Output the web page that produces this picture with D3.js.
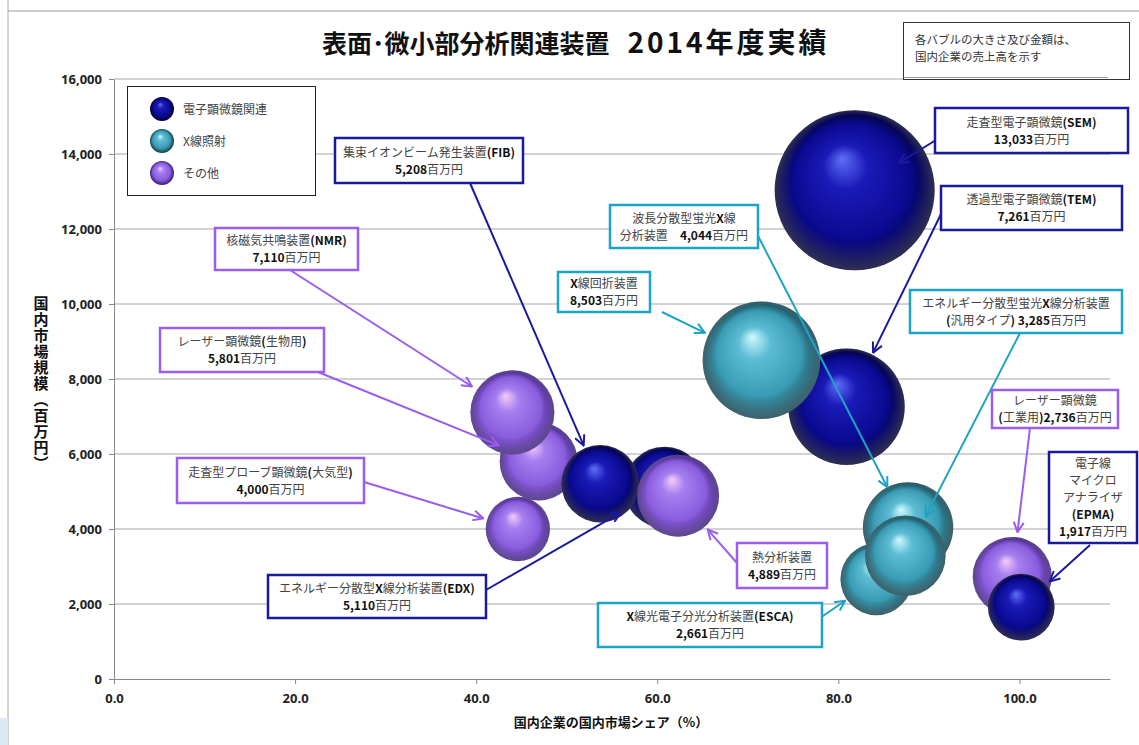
<!DOCTYPE html>
<html>
<head>
<meta charset="utf-8">
<script src="https://cdn.jsdelivr.net/npm/d3@7"></script>
<style>
  body { margin: 0; background: #fff; }
  text { font-family: "Noto Sans CJK JP", "Noto Sans", sans-serif; }
</style>
</head>
<body>
<div id="chart"></div>
<script>
var width = 1139,
    height = 745;

// draw order follows the picture (later = in front)
var names = ["SEM", "TEM", "XRD", "ESCA", "WDXRF", "EDXRF", "LaserInd", "EPMA",
             "LaserBio", "NMR", "Probe", "EDX", "FIB", "Thermal"];
var groups = [0, 0, 1, 1, 1, 1, 2, 0, 2, 2, 2, 0, 0, 2];
var share  = [81.8, 80.9, 71.5, 84.2, 87.7, 87.4, 99.2, 100.2, 46.9, 44.0, 44.6, 60.8, 53.7, 62.3];
var market = [13033, 7261, 8503, 2661, 4044, 3285, 2736, 1917, 5801, 7110, 4000, 5110, 5208, 4889];
var sales  = [10660, 5650, 5750, 2150, 3400, 2700, 2600, 1850, 2530, 2940, 1720, 2750, 2500, 2800];
var labelLines = [
  ["走査型電子顕微鏡(SEM)", "13,033百万円"],
  ["透過型電子顕微鏡(TEM)", "7,261百万円"],
  ["X線回折装置", "8,503百万円"],
  ["X線光電子分光分析装置(ESCA)", "2,661百万円"],
  ["波長分散型蛍光X線", "分析装置　4,044百万円"],
  ["エネルギー分散型蛍光X線分析装置", "(汎用タイプ)  3,285百万円"],
  ["レーザー顕微鏡", "(工業用)2,736百万円"],
  ["電子線", "マイクロ", "アナライザ", "(EPMA)", "1,917百万円"],
  ["レーザー顕微鏡(生物用)", "5,801百万円"],
  ["核磁気共鳴装置(NMR)", "7,110百万円"],
  ["走査型プローブ顕微鏡(大気型)", "4,000百万円"],
  ["エネルギー分散型X線分析装置(EDX)", "5,110百万円"],
  ["集束イオンビーム発生装置(FIB)", "5,208百万円"],
  ["熱分析装置", "4,889百万円"]
];
var groupNames = ["電子顕微鏡関連", "X線照射", "その他"];
var xTicks = [0, 20, 40, 60, 80, 100];
var yTicks = [0, 2000, 4000, 6000, 8000, 10000, 12000, 14000, 16000];

// callout boxes: [x0, y0, x1, y1], arrow start, gap beyond bubble edge
var callouts = [
  {box: [935, 108, 1128, 153], from: [936, 140], gap: -28},
  {box: [941, 186, 1122, 230], from: [942, 212], gap: 2},
  {box: [558, 272, 650, 312], from: [662, 312], gap: 4},
  {box: [598, 603, 822, 647], from: [820, 618], gap: 2},
  {box: [610, 205, 758, 248], from: [756, 232], gap: 0},
  {box: [910, 290, 1122, 333], from: [1020, 333], gap: 4},
  {box: [992, 390, 1118, 428], from: [1030, 428], gap: 5},
  {box: [1049, 452, 1137, 543], from: [1090, 545], gap: 5},
  {box: [160, 328, 324, 372], from: [318, 372], gap: 4},
  {box: [215, 228, 358, 270], from: [290, 270], gap: 6},
  {box: [177, 458, 364, 503], from: [364, 482], gap: 4},
  {box: [268, 575, 486, 618], from: [486, 590], gap: 10},
  {box: [335, 138, 523, 183], from: [470, 183], gap: 3},
  {box: [737, 543, 827, 588], from: [737, 563], gap: 4}
];

var colors = [
  {hi: "#5f6ff8", mid: "#1a1ab8", base: "#0a0a90", edge: "#01012e", line: "#1a1a9a"},
  {hi: "#d0faff", mid: "#5cbcd4", base: "#3a9cb4", edge: "#143f4a", line: "#1fa3c4"},
  {hi: "#f6ccf8", mid: "#a67ff0", base: "#8a5cde", edge: "#3a2075", line: "#9b5cf0"}
];

var x = d3.scaleLinear().domain([0, 110]).range([114, 1110]);
var y = d3.scaleLinear().domain([0, 16000]).range([679, 79]);
var r = d3.scaleSqrt().domain([0, 10660]).range([0, 80]);

var svg = d3.select("#chart").append("svg")
    .attr("width", width)
    .attr("height", height);

var defs = svg.append("defs");

colors.forEach(function(c, i) {
  var g = defs.append("radialGradient")
      .attr("id", "ball" + i)
      .attr("cx", 0.5).attr("cy", 0.5).attr("r", 0.5)
      .attr("fx", 0.42).attr("fy", 0.3);
  g.append("stop").attr("offset", "0%").attr("stop-color", c.hi);
  g.append("stop").attr("offset", "28%").attr("stop-color", c.mid);
  g.append("stop").attr("offset", "72%").attr("stop-color", c.base);
  g.append("stop").attr("offset", "100%").attr("stop-color", c.edge);

  defs.append("marker")
      .attr("id", "arrow" + i)
      .attr("viewBox", "0 0 12 12")
      .attr("refX", 11).attr("refY", 6)
      .attr("markerWidth", 12).attr("markerHeight", 12)
      .attr("markerUnits", "userSpaceOnUse")
      .attr("orient", "auto")
    .append("path")
      .attr("d", "M1,1 L11,6 L1,11")
      .attr("fill", "none")
      .attr("stroke", c.line)
      .attr("stroke-width", 2);
});

// bottom rim light for the spheres
var rim = defs.append("radialGradient")
    .attr("id", "rim")
    .attr("cx", 0.5).attr("cy", 0.5).attr("r", 0.5)
    .attr("fx", 0.5).attr("fy", 0.15);
rim.append("stop").attr("offset", "80%").attr("stop-color", "#fff").attr("stop-opacity", 0);
rim.append("stop").attr("offset", "100%").attr("stop-color", "#fff").attr("stop-opacity", 0.18);

// page frame lines
svg.append("line").attr("x1", 8).attr("x2", 8).attr("y1", 0).attr("y2", height)
    .attr("stroke", "#aaa");
svg.append("line").attr("x1", 8).attr("x2", width).attr("y1", 11).attr("y2", 11)
    .attr("stroke", "#999");
svg.append("rect").attr("x", 0).attr("y", 718).attr("width", 8).attr("height", 27)
    .attr("fill", "#dce9f5");

// grid
svg.append("g").selectAll("line")
    .data(yTicks.slice(1))
    .enter().append("line")
    .attr("x1", x(0)).attr("x2", x(110))
    .attr("y1", function(d) { return y(d); })
    .attr("y2", function(d) { return y(d); })
    .attr("stroke", "#a6a6a6");

// axes
var xAxis = svg.append("g")
    .attr("transform", "translate(0," + y(0) + ")")
    .call(d3.axisBottom(x).tickValues(xTicks).tickFormat(d3.format(".1f")).tickSize(5).tickSizeOuter(0));
var yAxis = svg.append("g")
    .attr("transform", "translate(" + x(0) + ",0)")
    .call(d3.axisLeft(y).tickValues(yTicks).tickFormat(d3.format(",")).tickSize(5).tickSizeOuter(0));

[xAxis, yAxis].forEach(function(a) {
  a.select(".domain").attr("stroke", "#888");
  a.selectAll(".tick line").attr("stroke", "#888");
  a.selectAll("text")
      .style("font-family", "'Noto Sans', sans-serif")
      .style("font-size", "13px")
      .style("font-weight", "bold")
      .attr("fill", "#222");
});
xAxis.selectAll("text").attr("dy", "1.2em");
yAxis.selectAll("text").attr("x", -12);

// title
var title = svg.append("text")
    .attr("x", 322).attr("y", 53)
    .style("font-size", "25px")
    .style("font-weight", "bold")
    .attr("fill", "#111");
title.append("tspan").text("表面･微小部分析関連装置");
title.append("tspan").attr("dx", 18)
    .style("font-size", "28px").style("letter-spacing", "3px")
    .text("2014年度実績");

// note box
svg.append("rect")
    .attr("x", 903.5).attr("y", 22.5).attr("width", 226).attr("height", 57)
    .attr("fill", "#fff").attr("stroke", "#333");
svg.append("text").attr("x", 915).attr("y", 44)
    .style("font-size", "11.5px").attr("fill", "#333")
    .text("各バブルの大きさ及び金額は、");
svg.append("text").attr("x", 915).attr("y", 61)
    .style("font-size", "11.5px").attr("fill", "#333")
    .text("国内企業の売上高を示す");
svg.append("line").attr("x1", 904).attr("x2", 1108).attr("y1", 77.5).attr("y2", 77.5)
    .attr("stroke", "#999");

// axis titles
svg.append("text")
    .attr("x", 611).attr("y", 727)
    .attr("text-anchor", "middle")
    .style("font-size", "13px").style("font-weight", "bold")
    .attr("fill", "#111")
    .text("国内企業の国内市場シェア（%）");
svg.append("text")
    .attr("x", 41).attr("y", 296)
    .style("writing-mode", "vertical-rl")
    .style("font-size", "15px").style("font-weight", "bold")
    .style("letter-spacing", "1px")
    .attr("fill", "#111")
    .text("国内市場規模（百万円）");

// legend
var legend = svg.append("g");
legend.append("rect")
    .attr("x", 127.5).attr("y", 86.5).attr("width", 188).attr("height", 109)
    .attr("fill", "#fff").attr("stroke", "#222");
groupNames.forEach(function(n, i) {
  var ly = 109 + i * 32;
  legend.append("circle")
      .attr("cx", 162).attr("cy", ly).attr("r", 12)
      .attr("fill", "url(#ball" + i + ")");
  legend.append("text")
      .attr("x", 183).attr("y", ly + 5)
      .style("font-size", "12px").attr("fill", "#444")
      .text(n);
});

// bubbles
var idx = d3.range(names.length);
svg.append("g").selectAll("g")
    .data(idx)
    .enter().append("g")
    .each(function(i) {
      var g = d3.select(this);
      g.append("circle")
          .attr("cx", x(share[i])).attr("cy", y(market[i])).attr("r", r(sales[i]))
          .attr("fill", "url(#ball" + groups[i] + ")");
      g.append("circle")
          .attr("cx", x(share[i])).attr("cy", y(market[i])).attr("r", r(sales[i]))
          .attr("fill", "url(#rim)");
    });

// callouts: arrows
var arrows = svg.append("g");
idx.forEach(function(i) {
  var c = callouts[i];
  var cx = x(share[i]), cy = y(market[i]);
  var dx = c.from[0] - cx, dy = c.from[1] - cy;
  var dist = Math.sqrt(dx * dx + dy * dy);
  var k = (r(sales[i]) + c.gap) / dist;
  arrows.append("line")
      .attr("x1", c.from[0]).attr("y1", c.from[1])
      .attr("x2", cx + dx * k).attr("y2", cy + dy * k)
      .attr("stroke", colors[groups[i]].line)
      .attr("stroke-width", 2)
      .attr("marker-end", "url(#arrow" + groups[i] + ")");
});

// callouts: boxes and text (latin parts bold)
var boxes = svg.append("g");
idx.forEach(function(i) {
  var c = callouts[i];
  boxes.append("rect")
      .attr("x", c.box[0]).attr("y", c.box[1])
      .attr("width", c.box[2] - c.box[0]).attr("height", c.box[3] - c.box[1])
      .attr("fill", "#fff")
      .attr("stroke", colors[groups[i]].line)
      .attr("stroke-width", 2.5);
  var lines = labelLines[i];
  var h = c.box[3] - c.box[1];
  var y0 = c.box[1] + (h - lines.length * 17) / 2 + 13;
  lines.forEach(function(line, j) {
    var t = boxes.append("text")
        .attr("x", (c.box[0] + c.box[2]) / 2)
        .attr("y", y0 + j * 17)
        .attr("text-anchor", "middle")
        .style("font-size", "12px");
    var runs = line.match(/[\x20-\x7e]+|[^\x20-\x7e]+/g);
    runs.forEach(function(run) {
      var latin = /^[\x20-\x7e]+$/.test(run);
      t.append("tspan")
          .style("font-weight", latin ? "bold" : "normal")
          .attr("fill", latin ? "#111" : "#444")
          .text(run);
    });
  });
});
</script>
</body>
</html>
